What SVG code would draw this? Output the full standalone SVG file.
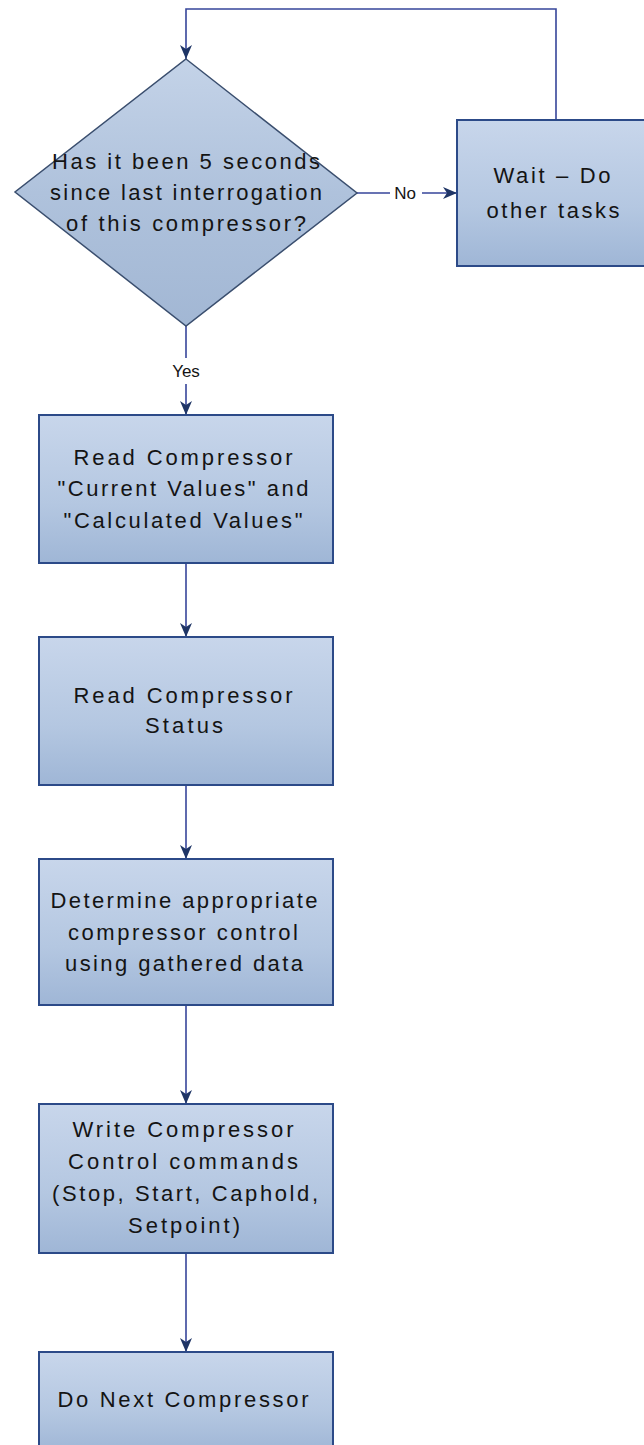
<svg xmlns="http://www.w3.org/2000/svg" width="644" height="1445" viewBox="0 0 644 1445">
<defs>
<linearGradient id="boxFill" x1="0" y1="0" x2="0" y2="1">
<stop offset="0" stop-color="#c8d6eb"/>
<stop offset="0.6" stop-color="#b4c7e1"/>
<stop offset="1" stop-color="#9fb6d6"/>
</linearGradient>
<linearGradient id="diaFill" x1="0" y1="0" x2="0" y2="1">
<stop offset="0" stop-color="#c4d3e8"/>
<stop offset="0.5" stop-color="#afc2dc"/>
<stop offset="1" stop-color="#a2b7d4"/>
</linearGradient>
<marker id="arr" viewBox="0 0 14 14" refX="14" refY="7" markerWidth="14" markerHeight="14" markerUnits="userSpaceOnUse" orient="auto">
<path d="M0,1 L4,7 L0,13 L14,7 Z" fill="#1f3566"/>
</marker>
<style>
.box{fill:url(#boxFill);stroke:#2c4a88;stroke-width:2}
.dia{fill:url(#diaFill);stroke:#3a4e6e;stroke-width:1.5}
.t{font-family:"Liberation Sans",Arial,sans-serif;font-size:22px;fill:#141414;text-anchor:middle}
.lbl{font-family:"Liberation Sans",Arial,sans-serif;font-size:17px;fill:#141414;text-anchor:middle}
.c{fill:none;stroke:#36459a;stroke-width:1.6}
</style>
</defs>
<rect width="644" height="1445" fill="#ffffff"/>
<g id="connectors">
<path class="c" d="M556,120 V9 H186 V59" marker-end="url(#arr)"/>
<path class="c" d="M357,193 H390"/>
<path class="c" d="M422,193 H457" marker-end="url(#arr)"/>
<path class="c" d="M186,326 V358"/>
<path class="c" d="M186,384 V415" marker-end="url(#arr)"/>
<path class="c" d="M186,563 V637" marker-end="url(#arr)"/>
<path class="c" d="M186,785 V859" marker-end="url(#arr)"/>
<path class="c" d="M186,1005 V1104" marker-end="url(#arr)"/>
<path class="c" d="M186,1253 V1352" marker-end="url(#arr)"/>
<text class="lbl" x="405" y="199">No</text>
<text class="lbl" x="186" y="377">Yes</text>
</g>
<g id="decision">
<polygon class="dia" points="186,59 357,193 186,326 15,192"/>
<text class="t" x="186" y="169" textLength="268" lengthAdjust="spacing">Has it been 5 seconds</text>
<text class="t" x="186" y="200" textLength="272" lengthAdjust="spacing">since last interrogation</text>
<text class="t" x="186" y="231" textLength="240" lengthAdjust="spacing">of this compressor?</text>
</g>
<g id="wait">
<rect class="box" x="457" y="120" width="192" height="146"/>
<text class="t" x="552" y="183" textLength="117" lengthAdjust="spacing">Wait – Do</text>
<text class="t" x="553" y="218" textLength="133" lengthAdjust="spacing">other tasks</text>
</g>
<g id="read-values">
<rect class="box" x="39" y="415" width="294" height="148"/>
<text class="t" x="183" y="465" textLength="219" lengthAdjust="spacing">Read Compressor</text>
<text class="t" x="183" y="496" textLength="251" lengthAdjust="spacing">"Current Values" and</text>
<text class="t" x="183" y="528" textLength="239" lengthAdjust="spacing">"Calculated Values"</text>
</g>
<g id="read-status">
<rect class="box" x="39" y="637" width="294" height="148"/>
<text class="t" x="183" y="703" textLength="219" lengthAdjust="spacing">Read Compressor</text>
<text class="t" x="184" y="733" textLength="78" lengthAdjust="spacing">Status</text>
</g>
<g id="determine">
<rect class="box" x="39" y="859" width="294" height="146"/>
<text class="t" x="184" y="908" textLength="267" lengthAdjust="spacing">Determine appropriate</text>
<text class="t" x="183" y="940" textLength="230" lengthAdjust="spacing">compressor control</text>
<text class="t" x="184" y="971" textLength="238" lengthAdjust="spacing">using gathered data</text>
</g>
<g id="write">
<rect class="box" x="39" y="1104" width="294" height="149"/>
<text class="t" x="183" y="1137" textLength="221" lengthAdjust="spacing">Write Compressor</text>
<text class="t" x="183" y="1169" textLength="230" lengthAdjust="spacing">Control commands</text>
<text class="t" x="185" y="1201" textLength="266" lengthAdjust="spacing">(Stop, Start, Caphold,</text>
<text class="t" x="184" y="1233" textLength="112" lengthAdjust="spacing">Setpoint)</text>
</g>
<g id="next">
<rect class="box" x="39" y="1352" width="294" height="100"/>
<text class="t" x="183" y="1407" textLength="251" lengthAdjust="spacing">Do Next Compressor</text>
</g>
</svg>
